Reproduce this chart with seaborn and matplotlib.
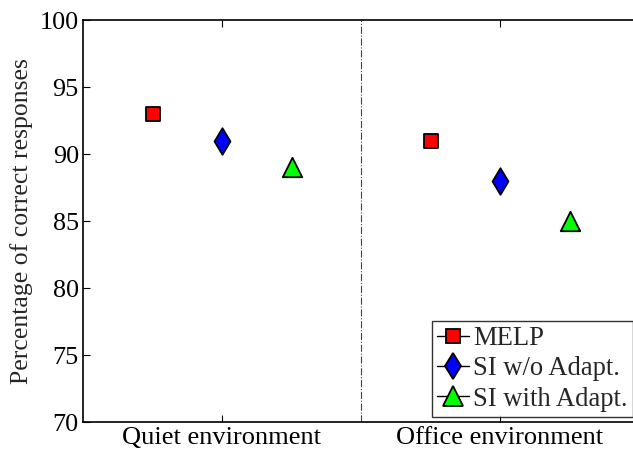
import matplotlib
matplotlib.use("Agg")
import matplotlib.pyplot as plt
from matplotlib.lines import Line2D
import seaborn as sns
import numpy as np

categories = ["Quiet environment", "Office environment"]
series = ["MELP", "SI w/o Adapt.", "SI with Adapt."]
melp = [93, 91]
si_wo = [91, 88]
si_with = [89, 85]
yticks = [70, 75, 80, 85, 90, 95, 100]

values = [melp, si_wo, si_with]
markers = ["s", "d", "^"]
colors = ["#ff0000", "#0000ff", "#00ff00"]
msizes = [10, 13.5, 14]  # points

sns.set_style("ticks")
plt.rcParams["font.family"] = ["Liberation Serif", "DejaVu Serif"]

fig = plt.figure(figsize=(6.33, 4.53), dpi=100)
ax = fig.add_axes([83 / 633, 1 - 422 / 453, (645 - 83) / 633, (422 - 20) / 453])

base = np.arange(1, len(categories) + 1)
offsets = [-0.25, 0.0, 0.25]
for vals, mk, col, ms, off in zip(values, markers, colors, msizes, offsets):
    sns.scatterplot(x=base + off, y=vals, marker=mk, color=col, s=ms ** 2,
                    edgecolor="k", linewidth=1.3, ax=ax, zorder=3, legend=False)

ax.axvline(1.5, color="#444444", linestyle="-.", linewidth=0.8, zorder=1)

ax.set_xlim(0.5, 2.5 + (645 - 639) / 278)
ax.set_ylim(70, 100)
ax.set_xticks(base)
ax.set_xticklabels(categories, fontsize=19)
ax.set_yticks(yticks)
ax.set_yticklabels([str(t) for t in yticks], fontsize=18.8)
ax.set_ylabel("Percentage of correct responses", fontsize=18.5, labelpad=5)

ax.tick_params(axis="both", direction="in", length=5, width=0.8, colors="k")
ax.tick_params(axis="x", top=True, pad=3.5)
ax.tick_params(axis="y", right=False, pad=3)
for name, sp in ax.spines.items():
    sp.set_visible(name != "right")
    sp.set_linewidth(1.2)
    sp.set_color("k")

handles = [Line2D([0], [0], color="k", linewidth=1.0, marker=mk, markersize=ms,
                  markerfacecolor=col, markeredgecolor="k", markeredgewidth=1.3)
           for mk, col, ms in zip(markers, colors, msizes)]
leg = fig.legend(handles, series, loc="lower left",
                 bbox_to_anchor=(432 / 633, 1 - 417 / 453),
                 fontsize=19.2, frameon=True, fancybox=False, borderaxespad=0,
                 handlelength=1.2, handletextpad=0.15, labelspacing=0.2,
                 borderpad=0.2)
leg.get_frame().set_edgecolor("k")
leg.get_frame().set_linewidth(1.0)

fig.savefig("out.png", dpi=100)
